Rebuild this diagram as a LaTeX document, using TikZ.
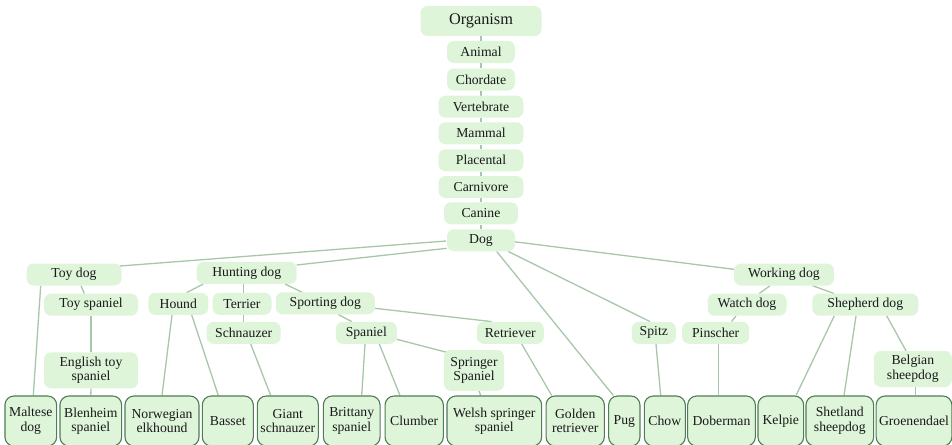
\documentclass[tikz,border=0pt]{standalone}
\usepackage{fontspec}
\setmainfont{Liberation Serif}
\usetikzlibrary{backgrounds}
\definecolor{boxfill}{HTML}{DEF5DA}
\definecolor{boxline}{HTML}{4F7D55}
\definecolor{linkcol}{HTML}{A8C6A9}
\definecolor{inkcol}{HTML}{1A1A1A}
\begin{document}
\begin{tikzpicture}[x=1pt,y=-1pt,
  taxon/.style={rounded corners=7, fill=boxfill, inner sep=0pt, align=center,
    text=inkcol, minimum height=22, font=\fontsize{13.7}{14.6}\selectfont},
  breed/.style={taxon, rounded corners=9, draw=boxline, line width=1.1,
    minimum height=50},
  link/.style={draw=linkcol, line width=1.3}]
\useasboundingbox (0,0) rectangle (952,444);
\clip (0,0) rectangle (952,444);

% taxonomic chain
\node[taxon, minimum width=121, minimum height=30, font=\fontsize{16.3}{18}\selectfont] (organism) at (481,21) {Organism};
\node[taxon, minimum width=68] (animal)     at (481,52)    {Animal};
\node[taxon, minimum width=68] (chordate)   at (481,79.5)  {Chordate};
\node[taxon, minimum width=85] (vertebrate) at (481,106.7) {Vertebrate};
\node[taxon, minimum width=85] (mammal)     at (481,133.3) {Mammal};
\node[taxon, minimum width=85] (placental)  at (481,160.3) {Placental};
\node[taxon, minimum width=85] (carnivore)  at (481,187)   {Carnivore};
\node[taxon, minimum width=74] (canine)     at (481,213.3) {Canine};
\node[taxon, minimum width=68] (dog)        at (481,240.3) {Dog};

% groups
\node[taxon, minimum width=95]  (toydog)   at (74,274.5)   {Toy dog};
\node[taxon, minimum width=100] (hunting)  at (246.7,272.8) {Hunting dog};
\node[taxon, minimum width=100] (working)  at (784,274.5)  {Working dog};
\node[taxon, minimum width=94]  (toyspaniel) at (91,304.7) {Toy spaniel};
\node[taxon, minimum width=60]  (hound)    at (178.3,303.8) {Hound};
\node[taxon, minimum width=59]  (terrier)  at (242,303.8)  {Terrier};
\node[taxon, minimum width=99]  (sporting) at (325.3,303.3) {Sporting dog};
\node[taxon, minimum width=79]  (watchdog) at (747,304.7)  {Watch dog};
\node[taxon, minimum width=106] (shepherd) at (865.3,304.7) {Shepherd dog};
\node[taxon, minimum width=74]  (schnauzer) at (243.7,332.8) {Schnauzer};
\node[taxon, minimum width=61]  (spaniel)  at (366.3,332.8) {Spaniel};
\node[taxon, minimum width=67]  (retriever) at (510.3,332.8) {Retriever};
\node[taxon, minimum width=44]  (spitz)    at (653.8,332.8) {Spitz};
\node[taxon, minimum width=67]  (pinscher) at (715.7,332.8) {Pinscher};
\node[taxon, minimum width=94, minimum height=36] (englishtoy) at (91,370.3) {English toy\\spaniel};
\node[taxon, minimum width=60, minimum height=41] (springer) at (474,370.3) {Springer\\Spaniel};
\node[taxon, minimum width=78, minimum height=36] (belgian) at (912.8,369) {Belgian\\sheepdog};

% breeds
\node[breed, minimum width=51.7] (maltese)   at (30.8,421)  {Maltese\\dog};
\node[breed, minimum width=61.7] (blenheim)  at (90.8,421)  {Blenheim\\spaniel};
\node[breed, minimum width=74]   (norwegian) at (162,421)   {Norwegian\\elkhound};
\node[breed, minimum width=51]   (basset)    at (227.8,421) {Basset};
\node[breed, minimum width=61]   (giant)     at (287.8,421) {Giant\\schnauzer};
\node[breed, minimum width=56.7] (brittany)  at (351.7,421) {Brittany\\spaniel};
\node[breed, minimum width=58.3] (clumber)   at (414.2,421) {Clumber};
\node[breed, minimum width=94.7] (welsh)     at (494.3,421) {Welsh springer\\spaniel};
\node[breed, minimum width=58.3] (golden)    at (575.2,421) {Golden\\retriever};
\node[breed, minimum width=31.3] (pug)       at (624.3,421) {Pug};
\node[breed, minimum width=41]   (chow)      at (664.8,421) {Chow};
\node[breed, minimum width=67.7] (doberman)  at (721.5,421) {Doberman};
\node[breed, minimum width=45.7] (kelpie)    at (780.8,421) {Kelpie};
\node[breed, minimum width=67.7] (shetland)  at (839.8,421) {Shetland\\sheepdog};
\node[breed, minimum width=75.7] (groenendael) at (914,421) {Groenendael};

% connectors, kept behind the boxes
\begin{scope}[on background layer]
\path[link] (organism) -- (animal);
\path[link] (animal) -- (chordate);
\path[link] (chordate) -- (vertebrate);
\path[link] (vertebrate) -- (mammal);
\path[link] (mammal) -- (placental);
\path[link] (placental) -- (carnivore);
\path[link] (carnivore) -- (canine);
\path[link] (canine) -- (dog);

\path[link] ([shift={(-35,0.7)}]dog.center) -- ([shift={(46,-8.5)}]toydog.center);
\path[link] ([shift={(-34.3,8)}]dog.center) -- ([shift={(50,-7.8)}]hunting.center);
\path[link] ([xshift=15.7]dog.south) -- ([xshift=-11]pug.north);
\path[link] ([xshift=27.3]dog.south) -- ([xshift=-3.8]spitz.north);
\path[link] ([shift={(33,1.4)}]dog.center) -- ([shift={(-50,-5.2)}]working.center);

\path[link] ([xshift=-33.3]toydog.south) -- ([xshift=2.5]maltese.north);
\path[link] ([xshift=7]toydog.south) -- ([xshift=-6.7]toyspaniel.north);
\path[link] (toyspaniel) -- (englishtoy);
\path[link] (englishtoy.south) -- (blenheim.north);

\path[link] ([xshift=-43.4]hunting.south) -- ([xshift=8.4]hound.north);
\path[link] ([xshift=-3.4]hunting.south) -- ([xshift=1.3]terrier.north);
\path[link] ([xshift=38.3]hunting.south) -- ([xshift=-23.6]sporting.north);
\path[link] ([xshift=1.3]terrier.south) -- ([xshift=-0.4]schnauzer.north);
\path[link] ([xshift=-6.3]hound.south) -- (norwegian.north);
\path[link] ([xshift=13.4]hound.south) -- ([xshift=-9.5]basset.north);
\path[link] ([xshift=7]schnauzer.south) -- ([xshift=-17.1]giant.north);

\path[link] ([xshift=13]sporting.south) -- ([xshift=-14.6]spaniel.north);
\path[link] ([shift={(49.7,5)}]sporting.center) -- ([xshift=-18.6]retriever.north);
\path[link] ([xshift=-1.3]spaniel.south) -- ([xshift=10]brittany.north);
\path[link] ([xshift=13]spaniel.south) -- ([xshift=-14.2]clumber.north);
\path[link] ([shift={(30.4,6.5)}]spaniel.center) -- ([shift={(-27.3,-18)}]springer.center);
\path[link] ([xshift=5]springer.south) -- ([xshift=-13.6]welsh.north);
\path[link] ([xshift=11.4]retriever.south) -- ([xshift=-23.5]golden.north);
\path[link] ([xshift=2.2]spitz.south) -- ([xshift=-4.1]chow.north);

\path[link] ([xshift=-14]working.south) -- ([xshift=12.3]watchdog.north);
\path[link] ([xshift=28.7]working.south) -- ([xshift=-31.3]shepherd.north);
\path[link] ([xshift=-11]watchdog.south) -- ([xshift=15.8]pinscher.north);
\path[link] ([xshift=3]pinscher.south) -- ([xshift=-2.8]doberman.north);
\path[link] ([xshift=-31]shepherd.south) -- ([xshift=15.2]kelpie.north);
\path[link] ([xshift=-9.3]shepherd.south) -- ([xshift=4.2]shetland.north);
\path[link] ([xshift=21.4]shepherd.south) -- ([xshift=-6.8]belgian.north);
\path[link] ([xshift=2.9]belgian.south) -- ([xshift=1.7]groenendael.north);
\end{scope}
\end{tikzpicture}
\end{document}
